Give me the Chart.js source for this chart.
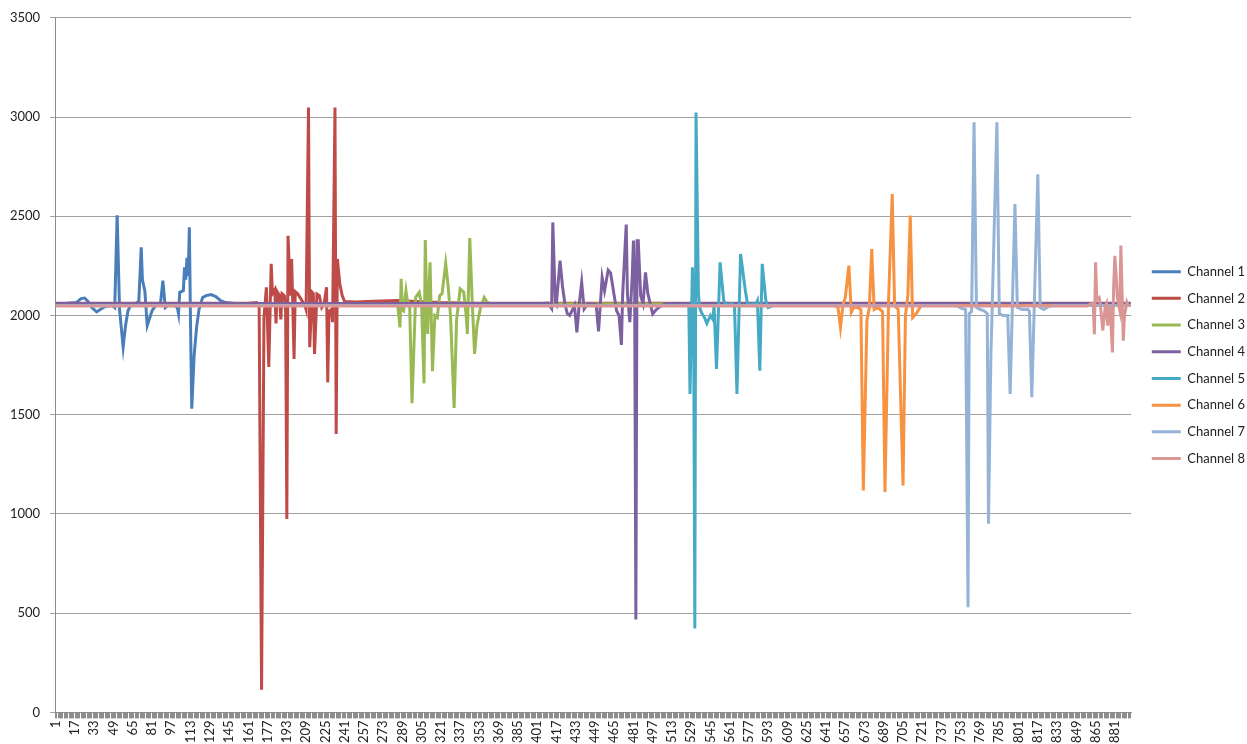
<!DOCTYPE html>
<html>
<head>
<meta charset="utf-8">
<script src="https://cdn.jsdelivr.net/npm/chart.js@4.4.1/dist/chart.umd.min.js"></script>
<style>
  html, body { margin: 0; padding: 0; background: #fff; }
</style>
</head>
<body>
<canvas id="chart" width="1247" height="744"></canvas>
<script>
const channelNames = ['Channel 1', 'Channel 2', 'Channel 3', 'Channel 4', 'Channel 5', 'Channel 6', 'Channel 7', 'Channel 8'];
const channelColors = ['#4A7EBB', '#BE4B48', '#98B954', '#7D60A0', '#46AAC5', '#F69240', '#95B3D7', '#D99694'];
const xTickLabels = [1, 17, 33, 49, 65, 81, 97, 113, 129, 145, 161, 177, 193, 209, 225, 241, 257, 273, 289, 305,
  321, 337, 353, 369, 385, 401, 417, 433, 449, 465, 481, 497, 513, 529, 545, 561, 577, 593, 609, 625, 641, 657,
  673, 689, 705, 721, 737, 753, 769, 785, 801, 817, 833, 849, 865, 881];

// [sample index, value]
const ch1 = [[1,2060],[10,2062],[18,2065],[22,2085],[25,2088],[28,2070],[31,2040],[35,2018],[38,2030],[42,2045],
  [48,2050],[50,2040],[52,2505],[54,2030],[57,1840],[59,1950],[61,2024],[64,2060],[67,2060],[70,2070],[72,2343],
  [73,2180],[75,2125],[77,1950],[81,2024],[84,2050],[88,2060],[90,2175],[92,2040],[94,2050],[97,2055],[100,2050],[102,2040],
  [103,2008],[104,2117],[107,2125],[108,2243],[109,2180],[110,2290],[111,2200],[112,2445],[113,1945],[114,1530],
  [116,1800],[118,1940],[120,2030],[123,2090],[126,2100],[130,2105],[134,2095],[138,2075],[142,2065],[150,2060],[894,2060]];
const ch2 = [[1,2062],[160,2062],[168,2065],[170,2040],[172,114],[174,1990],[176,2142],[178,1740],[180,2260],[181,2110],
  [183,2130],[184,1960],[185,2120],[187,2100],[188,1980],[189,2110],[191,2100],[192,2020],[193,975],[194,2402],[196,2100],
  [197,2285],[199,1781],[200,2120],[202,2110],[204,2090],[206,2070],[208,2050],[209,2030],[211,3048],[212,1840],[214,2117],
  [215,2110],[216,1806],[218,2108],[220,2100],[222,2040],[224,2060],[226,2142],[227,1663],[228,2020],[230,2030],[231,1966],
  [233,3048],[234,1403],[235,2285],[237,2160],[239,2100],[241,2070],[250,2068],[265,2072],[285,2075],[300,2070],[320,2065],
  [350,2062],[894,2062]];
const ch3 = [[1,2058],[280,2058],[285,2060],[287,1940],[288,2185],[289,2030],[290,2024],[292,2125],[293,2080],[295,2060],
  [297,1558],[300,2091],[303,2117],[305,2050],[307,1658],[308,2380],[310,1907],[312,2268],[314,1719],[316,2000],[318,1990],
  [320,2100],[322,2110],[325,2263],[327,2150],[329,2000],[332,1534],[334,1974],[337,2134],[340,2117],[342,2000],[343,1907],
  [345,2390],[347,2075],[349,1806],[351,1950],[354,2041],[357,2091],[359,2070],[362,2058],[894,2058]];
const ch4 = [[1,2060],[405,2060],[410,2062],[413,2035],[414,2469],[416,2075],[417,2060],[420,2276],[422,2150],[424,2060],
  [426,2010],[428,2000],[430,2024],[432,2050],[434,1915],[436,2060],[438,2167],[440,2033],[443,2060],[446,2058],[450,2055],
  [452,1920],[455,2192],[457,2125],[460,2229],[462,2215],[465,2100],[467,2024],[469,2000],[471,1852],[472,2100],[475,2458],
  [476,2109],[478,1966],[480,2201],[481,2377],[482,2150],[483,468],[484,2377],[485,2377],[487,2100],[489,2060],[491,2217],
  [493,2109],[497,2008],[500,2030],[503,2045],[508,2060],[894,2060]];
const ch5 = [[1,2050],[520,2050],[525,2052],[527,2050],[528,1605],[530,2243],[531,2000],[532,423],[533,3023],[535,2109],
  [536,2040],[538,2008],[540,1990],[542,1960],[545,2000],[547,1980],[548,2050],[550,1731],[553,2268],[556,2075],[559,2050],
  [563,2060],[565,2045],[567,1605],[570,2310],[574,2125],[576,2050],[580,2058],[582,2050],[584,2075],[586,1722],[588,2260],
  [591,2075],[593,2040],[597,2050],[894,2050]];
const ch6 = [[1,2050],[648,2050],[651,2040],[653,1940],[655,2050],[657,2090],[660,2251],[662,2016],[664,2040],[667,2040],
  [670,2030],[672,1118],[675,1975],[677,2040],[679,2335],[681,2030],[684,2040],[688,2020],[690,1110],[693,2075],[696,2612],
  [698,2050],[701,2030],[705,1143],[707,2000],[709,2100],[711,2503],[713,1990],[716,2010],[720,2050],[894,2050]];
const ch7 = [[1,2050],[745,2050],[750,2048],[754,2035],[757,2030],[759,530],[760,2010],[762,2020],[764,2973],[766,2041],
  [769,2030],[772,2025],[775,2010],[776,950],[778,1800],[779,2020],[783,2973],[785,2008],[788,2000],[792,2000],[794,1605],
  [798,2562],[800,2040],[804,2030],[809,2030],[810,2020],[812,1588],[817,2712],[819,2040],[822,2030],[826,2045],[830,2050],
  [894,2050]];
const ch8 = [[1,2048],[858,2048],[861,2058],[863,2060],[864,1905],[865,2268],[866,2080],[868,2090],[869,2050],[871,1924],
  [873,2045],[874,2060],[875,1949],[877,2050],[879,1814],[880,2150],[881,2301],[882,2210],[883,2090],[885,2030],[886,2352],
  [888,1873],[889,2000],[891,2066],[892,2050],[894,2050]];

const channels = [ch1, ch2, ch3, ch4, ch5, ch6, ch7, ch8];
const axisGray = '#8c8c8c';
const textColor = '#222';

Chart.defaults.font.family = 'Lato';
Chart.defaults.font.size = 13;

const datasets = channels.map((pts, i) => ({
    label: channelNames[i],
    data: pts.map(p => ({ x: p[0], y: p[1] })),
    borderColor: channelColors[i],
    backgroundColor: channelColors[i],
    borderWidth: 3,
    pointRadius: 0,
    tension: 0,
    // later channels sit on top, like the original
    order: channels.length - 1 - i
}));

new Chart(document.getElementById('chart'), {
    type: 'line',
    data: { datasets },
    options: {
        responsive: false,
        animation: false,
        devicePixelRatio: 1,
        layout: { padding: { left: 0, top: 10, right: -8, bottom: -1 } },
        plugins: {
            tooltip: { enabled: false },
            legend: {
                position: 'right',
                align: 'center',
                fullSize: false,
                labels: {
                    usePointStyle: true,
                    pointStyle: 'line',
                    pointStyleWidth: 29,
                    boxHeight: 13,
                    padding: 13.7,
                    color: textColor,
                    font: { size: 13 },
                    sort: (a, b) => a.datasetIndex - b.datasetIndex
                }
            }
        },
        scales: {
            x: {
                type: 'linear',
                min: 0.5,
                max: 894.5,
                afterBuildTicks: (scale) => {
                    const ticks = [];
                    for (let v = 1; v <= 894; v++) ticks.push({ value: v });
                    scale.ticks = ticks;
                },
                ticks: {
                    autoSkip: false,
                    minRotation: 90,
                    maxRotation: 90,
                    padding: 2,
                    color: textColor,
                    callback: (v) => xTickLabels.includes(v) ? String(v) : ''
                },
                grid: { drawOnChartArea: false, drawTicks: true, tickLength: 6, color: axisGray },
                border: { color: axisGray }
            },
            y: {
                min: 0,
                max: 3500,
                ticks: { stepSize: 500, padding: 10, color: textColor, callback: (v) => String(v) },
                grid: { color: '#a0a0a0', tickLength: 5 },
                border: { color: axisGray }
            },
            // empty gap between the plot and the legend
            ySpacer: {
                type: 'linear',
                position: 'right',
                grid: { display: false },
                border: { display: false },
                ticks: { display: false },
                afterFit: (scale) => { scale.width = 7; }
            }
        }
    }
});
</script>
</body>
</html>
